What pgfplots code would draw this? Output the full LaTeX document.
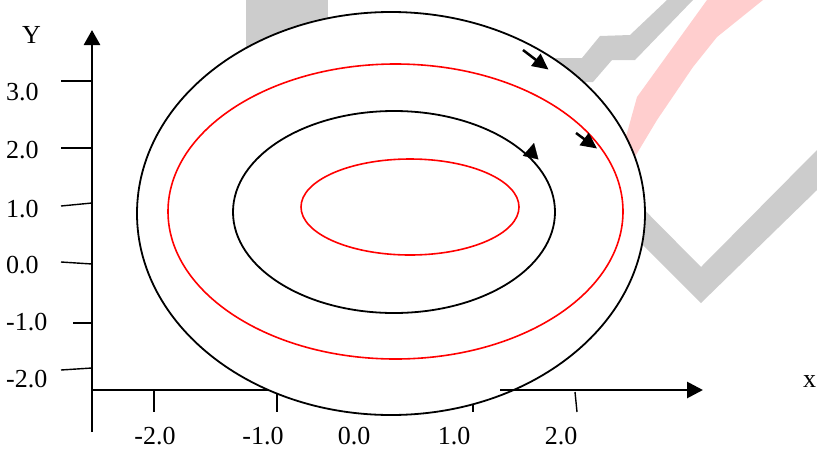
\documentclass[border=0pt]{standalone}
\usepackage{pgfplots}
\pgfplotsset{compat=1.18}
\usepackage{fontspec}
\setmainfont{Liberation Serif}
\usetikzlibrary{arrows.meta}
\definecolor{wmgray}{RGB}{204,204,204}
\definecolor{wmpink}{RGB}{255,206,206}
\begin{document}
\begin{tikzpicture}
\fontsize{26}{30}\selectfont
\begin{axis}[x=1pt, y=1pt, xmin=0, xmax=817, ymin=0, ymax=448, y dir=reverse,
  hide axis, clip=false, scale only axis]
% background watermark
\addplot[draw=none, fill=wmgray, mark=none] coordinates {(246,0)(328,0)(328,120)(246,120)} -- cycle;
\addplot[draw=none, fill=wmgray, mark=none] coordinates {(450,58)(582,58)(600,36)(630,35)(667,0)(693,0)(635,60)(612,60)(593,82)(450,82)} -- cycle;
\addplot[draw=none, fill=wmgray, mark=none] coordinates {(600,165)(701,267)(817,150)(817,190)(701,303)(600,202)} -- cycle;
\addplot[draw=none, fill=wmpink, mark=none] coordinates {(707,0)(763,0)(717,37)(693,67)(657,120)(630,165)(615,165)(627,133)(637,97)} -- cycle;
% axes (thin parts)
\addplot[black, line width=1.4pt, mark=none] coordinates {(92,432)(92,150)};
\addplot[black, line width=1.4pt, mark=none] coordinates {(92,390)(510,390)};
% x ticks
\addplot[black, line width=1.4pt, mark=none] coordinates {(154,390)(154,412)};
\addplot[black, line width=1.4pt, mark=none] coordinates {(277,390)(277,412)};
\addplot[black, line width=1.4pt, mark=none] coordinates {(360,390)(360,412)};
\addplot[black, line width=1.4pt, mark=none] coordinates {(473,390)(473,412)};
\addplot[black, line width=1.4pt, mark=none] coordinates {(575,392)(577,412)};
% y ticks
\addplot[black, line width=1.4pt, mark=none] coordinates {(61,81)(92,81)};
\addplot[black, line width=1.4pt, mark=none] coordinates {(61,148)(92,148)};
\addplot[black, line width=1.4pt, mark=none] coordinates {(61,206)(92,203)};
\addplot[black, line width=1.4pt, mark=none] coordinates {(61,262)(92,264)};
\addplot[black, line width=1.4pt, mark=none] coordinates {(73,323)(92,323)};
\addplot[black, line width=1.4pt, mark=none] coordinates {(61,370)(92,368)};
% ellipses
\draw[black, line width=1.8pt, fill=white] (axis cs:391,213.5) ellipse [x radius=254, y radius=201.5];
\draw[red, line width=1.6pt] (axis cs:395.5,211.5) ellipse [x radius=227.5, y radius=147.5];
\draw[black, line width=1.8pt] (axis cs:394,212) ellipse [x radius=161, y radius=101];
\draw[red, line width=1.6pt] (axis cs:410,207) ellipse [x radius=109, y radius=48];
% thick axis arrows
\draw[black, line width=2.8pt, -{Triangle[length=16pt,width=16pt]}] (axis cs:500,390) -- (axis cs:703,390);
\draw[black, line width=2.6pt, -{Triangle[length=15pt,width=16pt]}] (axis cs:92,160) -- (axis cs:92,30);
% direction arrows
\draw[black, line width=2.5pt, -{Triangle[length=16pt,width=15pt]}] (axis cs:523,50) -- (axis cs:548.5,69.5);
\draw[black, line width=2.5pt, -{Triangle[length=16pt,width=15pt]}] (axis cs:576,133) -- (axis cs:597,148.5);
\draw[black, line width=0.2pt, -{Triangle[length=15pt,width=16pt]}] (axis cs:530.5,158) -- (axis cs:534,143);
% labels
\node[anchor=base west, inner sep=0] at (axis cs:22,43) {Y};
\node[anchor=base west, inner sep=0] at (axis cs:803,387) {x};
\node[anchor=base west, inner sep=0] at (axis cs:6,100) {3.0};
\node[anchor=base west, inner sep=0] at (axis cs:6,158) {2.0};
\node[anchor=base west, inner sep=0] at (axis cs:6,217) {1.0};
\node[anchor=base west, inner sep=0] at (axis cs:6,273) {0.0};
\node[anchor=base west, inner sep=0] at (axis cs:6,330) {-1.0};
\node[anchor=base west, inner sep=0] at (axis cs:6,387) {-2.0};
\node[anchor=base, inner sep=0] at (axis cs:155,444) {-2.0};
\node[anchor=base, inner sep=0] at (axis cs:263,444) {-1.0};
\node[anchor=base, inner sep=0] at (axis cs:354,444) {0.0};
\node[anchor=base, inner sep=0] at (axis cs:454,444) {1.0};
\node[anchor=base, inner sep=0] at (axis cs:561,444) {2.0};
\end{axis}
\pgfresetboundingbox
\path (current axis.south west) rectangle (current axis.north east);
\end{tikzpicture}
\end{document}
